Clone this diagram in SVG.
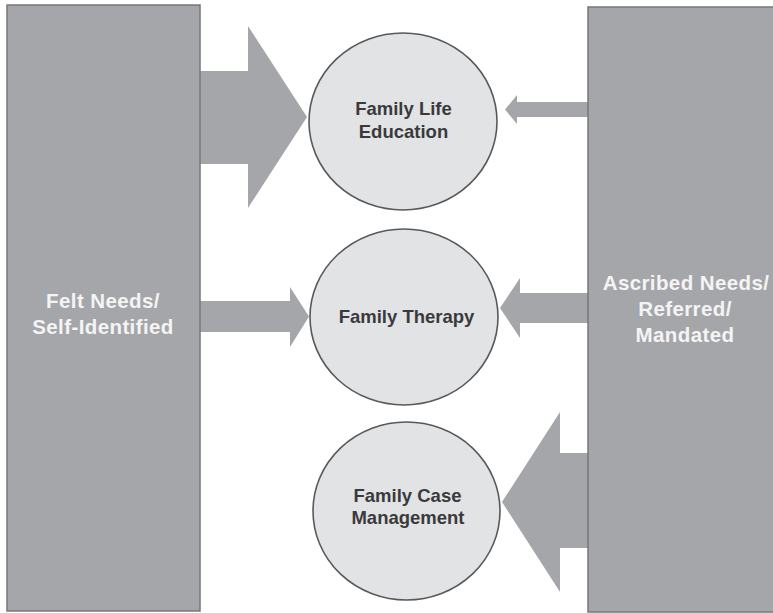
<svg xmlns="http://www.w3.org/2000/svg" width="773" height="613" viewBox="0 0 773 613">
  <style>
    .box { fill: #a5a6aa; stroke: #76777b; stroke-width: 1.5; }
    .arrow { fill: #a5a6aa; stroke: none; }
    .circ { fill: #e2e3e5; stroke: #58595c; stroke-width: 1.6; }
    .ctext { font-family: "Liberation Sans", Arial, sans-serif; font-weight: bold; font-size: 18.5px; fill: #3a3a3c; text-anchor: middle; }
    .btext { font-family: "Liberation Sans", Arial, sans-serif; font-weight: bold; font-size: 20.5px; letter-spacing: 0.4px; fill: #f4f4f4; text-anchor: middle; }
  </style>
  <rect width="773" height="613" fill="#ffffff"/>
  <g id="connectors">
    <polygon class="arrow" points="200,71 248,71 248,26 307,117 248,208 248,164 200,164"/>
    <polygon class="arrow" points="200,301 290,301 290,287 309,316.5 290,347 290,332 200,332"/>
    <polygon class="arrow" points="588,102 517,102 517,95 505,109.5 517,124 517,117 588,117"/>
    <polygon class="arrow" points="588,293 520,293 520,278 500,308 520,338 520,323 588,323"/>
    <polygon class="arrow" points="588,453 560,453 560,412 502,502 560,592 560,548 588,548"/>
  </g>
  <g id="felt-needs">
    <rect class="box" x="7" y="5" width="193" height="606"/>
    <text class="btext" x="103" y="308">Felt Needs/</text>
    <text class="btext" x="103" y="334">Self-Identified</text>
  </g>
  <g id="ascribed-needs">
    <rect class="box" x="588" y="7" width="195" height="605"/>
    <text class="btext" x="686" y="290">Ascribed Needs/</text>
    <text class="btext" x="685" y="316">Referred/</text>
    <text class="btext" x="685" y="342">Mandated</text>
  </g>
  <g id="family-life-education">
    <ellipse class="circ" cx="403" cy="121.5" rx="94" ry="88.5"/>
    <text class="ctext" x="403.5" y="115">Family Life</text>
    <text class="ctext" x="403.5" y="138">Education</text>
  </g>
  <g id="family-therapy">
    <ellipse class="circ" cx="404" cy="317" rx="94" ry="88"/>
    <text class="ctext" x="406.5" y="323">Family Therapy</text>
  </g>
  <g id="family-case-management">
    <ellipse class="circ" cx="406.5" cy="511" rx="93.5" ry="89"/>
    <text class="ctext" x="407.5" y="502">Family Case</text>
    <text class="ctext" x="408" y="524">Management</text>
  </g>
</svg>
